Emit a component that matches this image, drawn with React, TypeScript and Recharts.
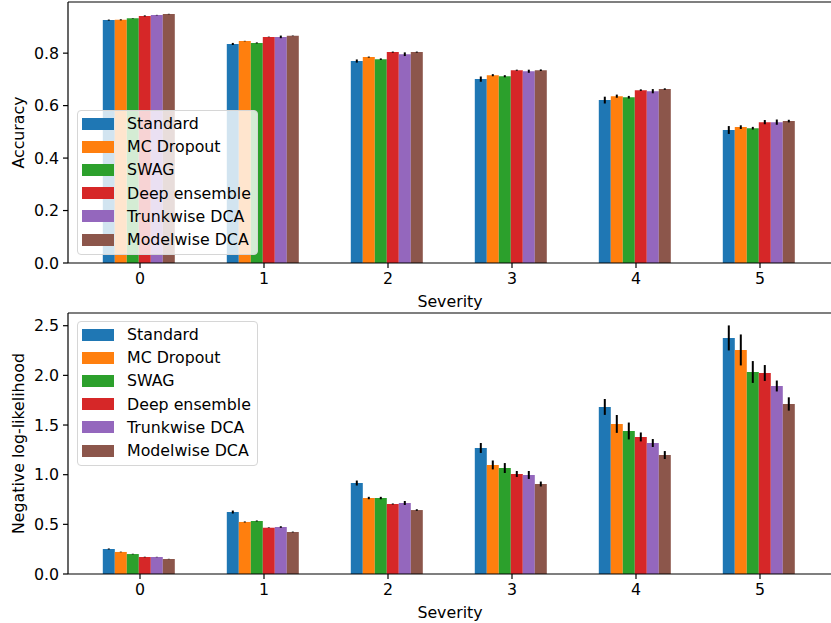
import { BarChart, Bar, XAxis, YAxis, ErrorBar, ReferenceLine, Label } from 'recharts';

// ---------------------------------------------------------------------------
// Data
// ---------------------------------------------------------------------------

const SEVERITIES = ['0', '1', '2', '3', '4', '5'];

const METHODS = ['Standard', 'MC Dropout', 'SWAG', 'Deep ensemble', 'Trunkwise DCA', 'Modelwise DCA'];
const COLORS = ['#1f77b4', '#ff7f0e', '#2ca02c', '#d62728', '#9467bd', '#8c564b'];

const ACC_STANDARD = [0.926, 0.835, 0.77, 0.701, 0.621, 0.507];
const ACC_MC_DROPOUT = [0.927, 0.846, 0.785, 0.716, 0.636, 0.518];
const ACC_SWAG = [0.933, 0.839, 0.777, 0.712, 0.632, 0.514];
const ACC_DEEP_ENSEMBLE = [0.942, 0.862, 0.804, 0.735, 0.659, 0.537];
const ACC_TRUNKWISE = [0.945, 0.862, 0.796, 0.731, 0.655, 0.537];
const ACC_MODELWISE = [0.949, 0.866, 0.804, 0.735, 0.663, 0.541];

const ACC_ERR_STANDARD = [0.002, 0.004, 0.006, 0.01, 0.013, 0.015];
const ACC_ERR_MC_DROPOUT = [0.002, 0.001, 0.002, 0.004, 0.006, 0.007];
const ACC_ERR_SWAG = [0.001, 0.002, 0.003, 0.004, 0.005, 0.005];
const ACC_ERR_DEEP_ENSEMBLE = [0.002, 0.001, 0.002, 0.002, 0.003, 0.008];
const ACC_ERR_TRUNKWISE = [0.001, 0.005, 0.007, 0.006, 0.008, 0.01];
const ACC_ERR_MODELWISE = [0.001, 0.001, 0.002, 0.003, 0.003, 0.005];

const NLL_STANDARD = [0.252, 0.624, 0.916, 1.269, 1.682, 2.377];
const NLL_MC_DROPOUT = [0.222, 0.524, 0.765, 1.098, 1.511, 2.256];
const NLL_SWAG = [0.201, 0.534, 0.765, 1.067, 1.44, 2.034];
const NLL_DEEP_ENSEMBLE = [0.171, 0.466, 0.705, 1.007, 1.38, 2.024];
const NLL_TRUNKWISE = [0.171, 0.473, 0.715, 0.997, 1.319, 1.893];
const NLL_MODELWISE = [0.151, 0.423, 0.644, 0.906, 1.198, 1.712];

const NLL_ERR_STANDARD = [0.005, 0.015, 0.025, 0.05, 0.08, 0.126];
const NLL_ERR_MC_DROPOUT = [0.003, 0.005, 0.012, 0.045, 0.09, 0.156];
const NLL_ERR_SWAG = [0.003, 0.005, 0.012, 0.05, 0.085, 0.11];
const NLL_ERR_DEEP_ENSEMBLE = [0.003, 0.003, 0.005, 0.03, 0.045, 0.08];
const NLL_ERR_TRUNKWISE = [0.002, 0.008, 0.02, 0.04, 0.04, 0.055];
const NLL_ERR_MODELWISE = [0.002, 0.004, 0.008, 0.025, 0.04, 0.067];

const ACC_TICKS = [0, 0.2, 0.4, 0.6, 0.8];
const NLL_TICKS = [0, 0.5, 1, 1.5, 2, 2.5];
const ACC_MAX = 0.995;
const NLL_MAX = 2.628;

// ---------------------------------------------------------------------------
// Helpers
// ---------------------------------------------------------------------------

function buildRows(values: number[][], errors: number[][]) {
  return SEVERITIES.map((sev, i) => {
    const row: Record<string, string | number> = { sev };
    values.forEach((v, k) => {
      row[`v${k}`] = v[i];
      row[`e${k}`] = errors[k][i];
    });
    return row;
  });
}

const accRows = buildRows(
  [ACC_STANDARD, ACC_MC_DROPOUT, ACC_SWAG, ACC_DEEP_ENSEMBLE, ACC_TRUNKWISE, ACC_MODELWISE],
  [ACC_ERR_STANDARD, ACC_ERR_MC_DROPOUT, ACC_ERR_SWAG, ACC_ERR_DEEP_ENSEMBLE, ACC_ERR_TRUNKWISE, ACC_ERR_MODELWISE],
);

const nllRows = buildRows(
  [NLL_STANDARD, NLL_MC_DROPOUT, NLL_SWAG, NLL_DEEP_ENSEMBLE, NLL_TRUNKWISE, NLL_MODELWISE],
  [NLL_ERR_STANDARD, NLL_ERR_MC_DROPOUT, NLL_ERR_SWAG, NLL_ERR_DEEP_ENSEMBLE, NLL_ERR_TRUNKWISE, NLL_ERR_MODELWISE],
);

const FONT = 'DejaVu Sans, sans-serif';
const FS = 15.8;
const tickStyle = { fill: '#000', fontSize: FS, fontFamily: FONT };

function YTitle({ viewBox, text }: any) {
  const cx = 18;
  const cy = viewBox.y + viewBox.height / 2;
  return (
    <text
      x={cx}
      y={cy}
      transform={`rotate(-90, ${cx}, ${cy})`}
      textAnchor="middle"
      dominantBaseline="central"
      fill="#000"
      fontSize={FS}
      fontFamily={FONT}
    >
      {text}
    </text>
  );
}

function XTitle({ viewBox, text }: any) {
  const cx = viewBox.x + viewBox.width / 2;
  const cy = viewBox.y + 38;
  return (
    <text x={cx} y={cy} textAnchor="middle" dominantBaseline="central" fill="#000" fontSize={FS} fontFamily={FONT}>
      {text}
    </text>
  );
}

function LegendBox({ left, top }: { left: number; top: number }) {
  return (
    <div
      style={{
        position: 'absolute',
        left,
        top,
        width: 181,
        height: 145,
        boxSizing: 'border-box',
        border: '1px solid #d6d6d6',
        borderRadius: 4,
        background: 'rgba(255,255,255,0.8)',
        fontFamily: FONT,
        fontSize: FS,
        color: '#000',
      }}
    >
      {METHODS.map((m, i) => (
        <div
          key={m}
          style={{
            position: 'absolute',
            left: 4,
            top: 1 + 23.2 * i,
            height: 23.2,
            display: 'flex',
            alignItems: 'center',
            whiteSpace: 'nowrap',
          }}
        >
          <span style={{ display: 'inline-block', width: 32, height: 12, background: COLORS[i] }} />
          <span style={{ marginLeft: 13 }}>{m}</span>
        </div>
      ))}
    </div>
  );
}

interface PanelProps {
  rows: Record<string, string | number>[];
  yMax: number;
  ticks: number[];
  yLabel: string;
  height: number;
  marginTop: number;
}

function Panel({ rows, yMax, ticks, yLabel, height, marginTop }: PanelProps) {
  return (
    <BarChart
      width={834}
      height={height}
      data={rows}
      margin={{ top: marginTop, right: 2, bottom: 0, left: 0 }}
      barCategoryGap="20%"
      barGap={0}
    >
      <XAxis
        dataKey="sev"
        height={49}
        padding={{ left: 10, right: 10 }}
        tick={tickStyle}
        tickSize={5}
        tickMargin={5}
        axisLine={{ stroke: '#000', strokeWidth: 1.2 }}
        tickLine={{ stroke: '#000', strokeWidth: 1.2 }}
      >
        <Label content={(p: any) => <XTitle {...p} text="Severity" />} />
      </XAxis>
      <YAxis
        type="number"
        width={68}
        domain={[0, yMax]}
        allowDataOverflow
        ticks={ticks}
        interval={0}
        tickFormatter={(v: number) => v.toFixed(1)}
        tick={tickStyle}
        tickSize={5}
        tickMargin={4}
        axisLine={{ stroke: '#000', strokeWidth: 1.2 }}
        tickLine={{ stroke: '#000', strokeWidth: 1.2 }}
      >
        <Label content={(p: any) => <YTitle {...p} text={yLabel} />} />
      </YAxis>
      <ReferenceLine y={yMax} stroke="#000" strokeWidth={1.2} />
      {METHODS.map((m, k) => (
        <Bar key={m} dataKey={`v${k}`} name={m} fill={COLORS[k]} isAnimationActive={false}>
          <ErrorBar dataKey={`e${k}`} width={0} stroke="#000" strokeWidth={2} isAnimationActive={false} />
        </Bar>
      ))}
    </BarChart>
  );
}

// ---------------------------------------------------------------------------
// Component
// ---------------------------------------------------------------------------

export default function App() {
  return (
    <div
      style={{
        position: 'absolute',
        left: 0,
        top: 0,
        width: 831,
        height: 623,
        overflow: 'hidden',
        background: '#fff',
        fontFamily: FONT,
      }}
    >
      <div style={{ position: 'absolute', left: 0, top: 0 }}>
        <Panel rows={accRows} yMax={ACC_MAX} ticks={ACC_TICKS} yLabel="Accuracy" height={312} marginTop={2} />
      </div>
      <div style={{ position: 'absolute', left: 0, top: 312 }}>
        <Panel rows={nllRows} yMax={NLL_MAX} ticks={NLL_TICKS} yLabel="Negative log-likelihood" height={311} marginTop={1} />
      </div>
      <LegendBox left={77} top={110} />
      <LegendBox left={77} top={321} />
    </div>
  );
}
